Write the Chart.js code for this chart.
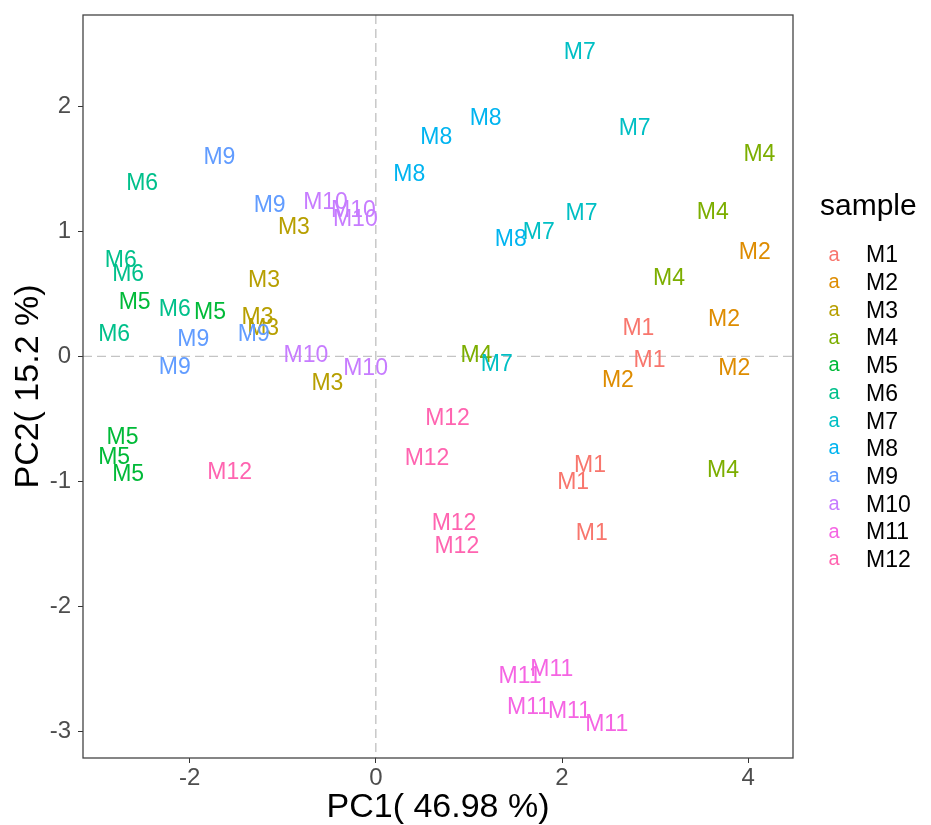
<!doctype html>
<html lang="en">
  <head>
    <meta charset="utf-8">
    <title>PCA</title>
    <style>
      body { margin: 0; background: #fff; }
      #wrap { width: 931px; height: 825px; }
    </style>
  </head>
  <body>
    <div id="wrap"><canvas id="pcaChart" width="931" height="825"></canvas></div>

    <script src="https://cdn.jsdelivr.net/npm/chart.js"></script>
    <script>
      // sample names and colours (ggplot default hue palette)
      const samples = ['M1','M2','M3','M4','M5','M6','M7','M8','M9','M10','M11','M12'];
      const colors = ['#F8766D','#DE8C00','#B79F00','#7CAE00','#00BA38','#00C08B',
                      '#00BFC4','#00B4F0','#619CFF','#C77CFF','#F564E3','#FF64B0'];

      // PC1 scores, one row per sample
      const pc1 = [
        [2.82, 2.94, 2.30, 2.12, 2.32],
        [4.07, 3.74, 3.85, 2.60],
        [-0.88, -1.20, -1.27, -1.21, -0.52],
        [4.12, 3.62, 3.15, 1.08, 3.73],
        [-2.59, -1.78, -2.72, -2.81, -2.66],
        [-2.51, -2.74, -2.66, -2.16, -2.81],
        [2.19, 2.78, 2.21, 1.75, 1.30],
        [1.18, 0.65, 0.36, 1.45],
        [-1.68, -1.14, -1.31, -1.96, -2.16],
        [-0.54, -0.24, -0.22, -0.75, -0.11],
        [1.55, 1.89, 1.64, 2.08, 2.48],
        [-1.57, 0.77, 0.55, 0.84, 0.87]
      ];

      // PC2 scores, same order
      const pc2 = [
        [0.23, -0.03, -0.87, -1.00, -1.41],
        [0.84, 0.30, -0.09, -0.19],
        [1.04, 0.61, 0.32, 0.23, -0.21],
        [1.62, 1.16, 0.63, 0.01, -0.91],
        [0.44, 0.36, -0.64, -0.80, -0.94],
        [1.39, 0.77, 0.66, 0.38, 0.18],
        [2.44, 1.83, 1.15, 1.00, -0.06],
        [1.91, 1.76, 1.46, 0.94],
        [1.60, 1.21, 0.18, 0.14, -0.08],
        [1.24, 1.17, 1.10, 0.01, -0.09],
        [-2.55, -2.50, -2.80, -2.83, -2.94],
        [-0.92, -0.49, -0.81, -1.33, -1.51]
      ];

      const xTicks = [-2, 0, 2, 4];
      const yTicks = [-3, -2, -1, 0, 1, 2];

      const datasets = samples.map(function(s, i) {
        return {
          label: s,
          data: pc1[i].map(function(x, j) { return {x: x, y: pc2[i][j]}; }),
          pointRadius: 0,
          pointHoverRadius: 0,
          color: colors[i]
        };
      });

      const FONT = '"Liberation Sans", Arial, sans-serif';

      // text labels at each point, zero lines, panel border, legend
      const pcaPlugin = {
        id: 'pcaPlugin',
        beforeDatasetsDraw(chart) {
          const ctx = chart.ctx;
          const a = chart.chartArea;
          const xs = chart.scales.x, ys = chart.scales.y;
          ctx.save();
          ctx.strokeStyle = '#C4C4C4';
          ctx.lineWidth = 1.4;
          ctx.setLineDash([9, 5]);
          const x0 = xs.getPixelForValue(0), y0 = ys.getPixelForValue(0);
          ctx.beginPath();
          ctx.moveTo(x0, a.top); ctx.lineTo(x0, a.bottom);
          ctx.moveTo(a.left, y0); ctx.lineTo(a.right, y0);
          ctx.stroke();
          ctx.restore();
        },
        afterDatasetsDraw(chart) {
          const ctx = chart.ctx;
          const a = chart.chartArea;
          ctx.save();
          ctx.font = '23px ' + FONT;
          ctx.textAlign = 'center';
          ctx.textBaseline = 'middle';
          chart.data.datasets.forEach(function(ds, i) {
            const meta = chart.getDatasetMeta(i);
            ctx.fillStyle = ds.color;
            meta.data.forEach(function(el) {
              ctx.fillText(ds.label, el.x, el.y + 1);
            });
          });
          ctx.restore();

          ctx.save();
          ctx.strokeStyle = '#444';
          ctx.lineWidth = 1.3;
          ctx.strokeRect(a.left, a.top, a.right - a.left, a.bottom - a.top);
          ctx.restore();

          // legend
          ctx.save();
          ctx.fillStyle = '#000';
          ctx.font = '30px ' + FONT;
          ctx.textAlign = 'left';
          ctx.textBaseline = 'middle';
          ctx.fillText('sample', 820, 207);
          samples.forEach(function(s, i) {
            const y = 255 + i * 27.7;
            ctx.font = '20px ' + FONT;
            ctx.textAlign = 'center';
            ctx.fillStyle = colors[i];
            ctx.fillText('a', 834, y);
            ctx.font = '23px ' + FONT;
            ctx.textAlign = 'left';
            ctx.fillStyle = '#000';
            ctx.fillText(s, 866, y + 1);
          });
          ctx.restore();
        }
      };

      const chart = new Chart(document.getElementById('pcaChart'), {
        type: 'scatter',
        data: { datasets: datasets },
        options: {
          responsive: false,
          animation: false,
          events: [],
          layout: { padding: { left: 0, right: 138, top: 15, bottom: 0 } },
          plugins: { legend: { display: false }, tooltip: { enabled: false } },
          scales: {
            x: {
              type: 'linear',
              min: -3.145,
              max: 4.481,
              afterBuildTicks: function(s) { s.ticks = xTicks.map(function(v) { return {value: v}; }); },
              afterFit: function(s) { s.height = 67; s.paddingLeft = 0; s.paddingRight = 0; },
              grid: { drawOnChartArea: false, drawTicks: true, tickLength: 5, color: '#333', lineWidth: 1 },
              border: { display: false },
              ticks: { color: '#4D4D4D', font: { family: FONT, size: 24 }, padding: 1 },
              title: { display: true, text: 'PC1( 46.98 %)', color: '#000',
                       font: { family: FONT, size: 34, lineHeight: 1 }, padding: { top: 0, bottom: 0 } }
            },
            y: {
              type: 'linear',
              min: -3.212,
              max: 2.73,
              afterBuildTicks: function(s) { s.ticks = yTicks.map(function(v) { return {value: v}; }); },
              afterFit: function(s) { s.width = 83; s.paddingTop = 0; s.paddingBottom = 0; },
              grid: { drawOnChartArea: false, drawTicks: true, tickLength: 5, color: '#333', lineWidth: 1 },
              border: { display: false },
              ticks: { color: '#4D4D4D', font: { family: FONT, size: 24 }, padding: 7 },
              title: { display: true, text: 'PC2( 15.2 %)', color: '#000',
                       font: { family: FONT, size: 34, lineHeight: 1 }, padding: { top: 12, bottom: 0 } }
            }
          }
        },
        plugins: [pcaPlugin]
      });
    </script>
  </body>
</html>
